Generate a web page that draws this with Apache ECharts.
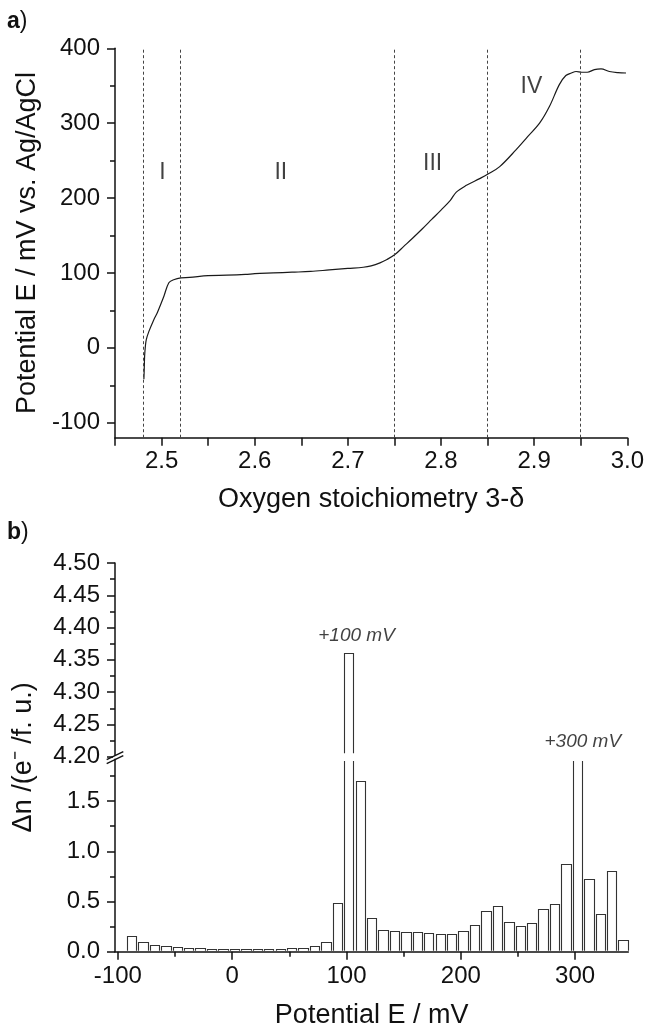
<!DOCTYPE html>
<html>
<head>
<meta charset="utf-8">
<script src="https://cdn.jsdelivr.net/npm/echarts@6/dist/echarts.min.js"></script>
<style>
html,body{margin:0;padding:0;background:#fff;}
#chart{width:647px;height:1030px;}
</style>
</head>
<body>
<div id="chart"></div>
<script>
// ---------- Panel a) data ----------
const stoich = [2.481, 2.4814, 2.4818, 2.4826, 2.4836, 2.4864, 2.4918, 2.4954, 2.5025, 2.5078, 2.513, 2.5207,
  2.53, 2.55, 2.57, 2.59, 2.60, 2.62, 2.64, 2.66, 2.68, 2.70, 2.7165, 2.725, 2.7345, 2.742, 2.7505,
  2.76, 2.77, 2.78, 2.79, 2.80, 2.81, 2.8164, 2.8273, 2.8415, 2.8504, 2.863, 2.8807,
  2.893, 2.9058, 2.9165, 2.927, 2.934, 2.940, 2.945, 2.951, 2.957, 2.9647, 2.9718, 2.9807, 2.990, 2.9986];
const potential = [-42, -28, -11, 2, 11, 22, 38, 47, 69, 87, 91, 93.5,
  94, 96.5, 97, 98, 99, 100, 101, 102, 104, 106, 107.6, 109.5, 113.5, 118, 124.6,
  135.5, 147, 159, 171.5, 184, 197, 208, 217, 226, 232, 242, 264.7,
  282, 300, 322.6, 351.5, 363.6, 367, 369, 368, 368, 371.6, 372.5, 369, 367.5, 367];
const boundaries = [2.48, 2.52, 2.75, 2.85, 2.95];
const regionNames = ['I', 'II', 'III', 'IV'];
const regionX = [2.501, 2.628, 2.791, 2.897];
const regionY = [234, 234, 246, 349];
const aYTicks = [-100, 0, 100, 200, 300, 400];
const aYMinor = [-50, 50, 150, 250, 350];

// ---------- Panel b) data ----------
const binE = [-88, -78, -68, -58, -48, -38, -28, -18, -8, 2, 12, 22, 32, 42, 52, 62, 72, 82, 92,
  102, 112, 122, 132, 142, 152, 162, 172, 182, 192, 202, 212, 222, 232, 242, 252, 262, 272, 282, 292,
  302, 312, 322, 332, 342];
const deltaN = [0.16, 0.093, 0.07, 0.057, 0.044, 0.04, 0.034, 0.03, 0.027, 0.024, 0.027, 0.027, 0.03, 0.03, 0.034, 0.037, 0.053, 0.097, 0.485,
  4.36, 1.705, 0.333, 0.216, 0.203, 0.196, 0.196, 0.186, 0.173, 0.18, 0.206, 0.27, 0.41, 0.46, 0.30, 0.26, 0.283, 0.43, 0.48, 0.874,
  3.0, 0.72, 0.373, 0.805, 0.114];
const bXTicks = [-100, 0, 100, 200, 300];
const bXMinor = [-50, 50, 150, 250];
const bLowTicks = [0, 0.5, 1.0, 1.5];
const bLowMinor = [0.25, 0.75, 1.25, 1.75];
const peakLabels = ['+100 mV', '+300 mV'];
const peakLabelX = [108.8, 306.7];
const peakLabelY = [4.387, 4.223];

// ---------- styling ----------
const FONT = '"Liberation Sans", Arial, Helvetica, sans-serif';
const INK = '#111';
const axisLineStyle = {show: true, onZero: false, lineStyle: {color: INK, width: 1.5}};
const LOW_MAX = 1.93;
const HIGH_MIN = 4.2, HIGH_MAX = 4.5;
const BAR_MV = 8.2;

function barRenderer(lo, hi) {
  return function (params, api) {
    const x = api.value(0), v = api.value(1);
    if (v <= lo) return null;
    const cutTop = v > hi;
    const cutBottom = lo > 0;
    const pTop = api.coord([x, Math.min(v, hi)]);
    const pBase = api.coord([x, lo]);
    const w = api.size([BAR_MV, 0])[0];
    const xl = Math.round(pTop[0] - w / 2) + 0.5;
    const xr = Math.round(pTop[0] + w / 2) + 0.5;
    let yt = Math.round(pTop[1]) + 0.5;
    let yb = pBase[1];
    if (cutTop) yt += 2.5;
    if (cutBottom) yb -= 3.5; else yb -= 1;
    const st = {stroke: '#333', lineWidth: 1.1, fill: null};
    const children = [{type: 'rect', shape: {x: xl, y: yt, width: xr - xl, height: yb - yt}, style: {fill: '#fff'}}];
    if (cutTop) {
      children.push({type: 'line', shape: {x1: xl, y1: yt, x2: xl, y2: yb}, style: st});
      children.push({type: 'line', shape: {x1: xr, y1: yt, x2: xr, y2: yb}, style: st});
    } else {
      children.push({type: 'polyline', shape: {points: [[xl, yb], [xl, yt], [xr, yt], [xr, yb]]}, style: st});
    }
    return {type: 'group', children: children};
  };
}

const curveData = stoich.map((s, i) => [s, potential[i]]);
const barData = binE.map((e, i) => [e, deltaN[i]]);
const regionData = regionNames.map((n, i) => [regionX[i], regionY[i], n]);
const peakData = peakLabels.map((n, i) => [peakLabelX[i], peakLabelY[i], n]);

const chart = echarts.init(document.getElementById('chart'), null, {renderer: 'canvas'});

const tickLabel = {color: INK, fontSize: 24, fontFamily: FONT};
const nameStyle = {color: INK, fontSize: 27, fontFamily: FONT};

const option = {
  animation: false,
  backgroundColor: '#fff',
  textStyle: {fontFamily: FONT},
  grid: [
    {left: 115, right: 18.7, top: 48.3, bottom: 592.3},
    {left: 115, right: 18.7, top: 563, bottom: 273.3},
    {left: 115, right: 18.7, top: 758, bottom: 78.3}
  ],
  xAxis: [
    {type: 'value', gridIndex: 0, min: 2.45, max: 3.0, interval: 0.05,
      axisLine: axisLineStyle, splitLine: {show: false},
      axisTick: {show: true, length: 8, lineStyle: {color: INK, width: 1.5}},
      axisLabel: Object.assign({}, tickLabel, {margin: 12, showMinLabel: true,
        formatter: v => (Math.round(v * 100) % 10 === 0 ? v.toFixed(1) : '')}),
      name: 'Oxygen stoichiometry 3-δ', nameLocation: 'middle', nameGap: 48, nameTextStyle: nameStyle},
    {type: 'value', gridIndex: 1, min: -102.5, max: 346.5, show: false},
    {type: 'value', gridIndex: 2, min: -102.5, max: 346.5, position: 'bottom',
      axisLine: axisLineStyle, splitLine: {show: false},
      axisTick: {show: true, length: 8, customValues: bXTicks, lineStyle: {color: INK, width: 1.5}},
      axisLabel: Object.assign({}, tickLabel, {margin: 13, customValues: bXTicks}),
      name: 'Potential E / mV', nameLocation: 'middle', nameGap: 50, nameTextStyle: nameStyle},
    {type: 'value', gridIndex: 2, min: -102.5, max: 346.5, position: 'bottom',
      axisLine: {show: false, onZero: false}, splitLine: {show: false},
      axisTick: {show: true, length: 5, customValues: bXMinor, lineStyle: {color: INK, width: 1.5}},
      axisLabel: {show: false}}
  ],
  yAxis: [
    {type: 'value', gridIndex: 0, min: -120, max: 400, position: 'left',
      axisLine: axisLineStyle, splitLine: {show: false},
      axisTick: {show: true, length: 8, customValues: aYTicks, lineStyle: {color: INK, width: 1.5}},
      axisLabel: Object.assign({}, tickLabel, {margin: 15, customValues: aYTicks}),
      name: 'Potential E / mV vs. Ag/AgCl', nameLocation: 'middle', nameGap: 68, nameTextStyle: nameStyle},
    {type: 'value', gridIndex: 0, min: -120, max: 400, position: 'left',
      axisLine: {show: false, onZero: false}, splitLine: {show: false},
      axisTick: {show: true, length: 5, customValues: aYMinor, lineStyle: {color: INK, width: 1.5}},
      axisLabel: {show: false}},
    {type: 'value', gridIndex: 1, min: HIGH_MIN, max: HIGH_MAX, interval: 0.05, position: 'left',
      axisLine: axisLineStyle, splitLine: {show: false},
      axisTick: {show: true, length: 8, lineStyle: {color: INK, width: 1.5}},
      minorTick: {show: true, splitNumber: 2, length: 5, lineStyle: {color: INK, width: 1.5}},
      axisLabel: Object.assign({}, tickLabel, {margin: 15, formatter: v => v.toFixed(2)})},
    {type: 'value', gridIndex: 2, min: 0, max: LOW_MAX, position: 'left',
      axisLine: axisLineStyle, splitLine: {show: false},
      axisTick: {show: true, length: 8, customValues: bLowTicks, lineStyle: {color: INK, width: 1.5}},
      axisLabel: Object.assign({}, tickLabel, {margin: 15, customValues: bLowTicks, formatter: v => v.toFixed(1)})},
    {type: 'value', gridIndex: 2, min: 0, max: LOW_MAX, position: 'left',
      axisLine: {show: false, onZero: false}, splitLine: {show: false},
      axisTick: {show: true, length: 5, customValues: bLowMinor, lineStyle: {color: INK, width: 1.5}},
      axisLabel: {show: false}}
  ],
  series: [
    {type: 'line', xAxisIndex: 0, yAxisIndex: 0, data: curveData, showSymbol: false, symbol: 'none',
      smooth: 0.35,
      lineStyle: {color: '#1a1a1a', width: 1.2},
      markLine: {symbol: 'none', silent: true, label: {show: false}, animation: false,
        lineStyle: {type: [3, 2.5], color: '#444', width: 1},
        data: boundaries.map(b => ({xAxis: b}))}},
    {type: 'scatter', xAxisIndex: 0, yAxisIndex: 0, data: regionData, symbolSize: 1,
      itemStyle: {color: 'rgba(0,0,0,0)'}, silent: true,
      label: {show: true, position: 'inside', formatter: p => p.data[2], color: INK, fontSize: 23, fontFamily: FONT}},
    {type: 'custom', xAxisIndex: 1, yAxisIndex: 2, data: barData, renderItem: barRenderer(HIGH_MIN, HIGH_MAX), clip: false},
    {type: 'custom', xAxisIndex: 2, yAxisIndex: 3, data: barData, renderItem: barRenderer(0, LOW_MAX), clip: false},
    {type: 'scatter', xAxisIndex: 1, yAxisIndex: 2, data: peakData, symbolSize: 1, clip: false,
      itemStyle: {color: 'rgba(0,0,0,0)'}, silent: true,
      label: {show: true, position: 'inside', formatter: p => p.data[2], color: INK, fontSize: 19,
        fontStyle: 'italic', fontFamily: FONT}}
  ]
};
chart.setOption(option);

// panel letters, rotated y title of panel b, and axis break marks
const breakY = chart.convertToPixel({yAxisIndex: 2}, HIGH_MIN);
const axisX = chart.convertToPixel({xAxisIndex: 2}, -102.5);
const topB = chart.convertToPixel({yAxisIndex: 2}, HIGH_MAX);
const lowB = chart.convertToPixel({yAxisIndex: 3}, 0);
chart.setOption({
  graphic: [
    {type: 'text', left: 7, top: 10, style: {text: '{b|a})', fill: INK, font: '23px ' + FONT,
      rich: {b: {fontWeight: 'bold', fontSize: 23, fontFamily: FONT, fill: INK}}}},
    {type: 'text', left: 7, top: 521, style: {text: '{b|b})', fill: INK, font: '23px ' + FONT,
      rich: {b: {fontWeight: 'bold', fontSize: 23, fontFamily: FONT, fill: INK}}}},
    {type: 'text', x: 24, y: (topB + lowB) / 2, rotation: Math.PI / 2,
      style: {text: 'Δn /(e⁻ /f. u.)', fill: INK, font: '27px ' + FONT, align: 'center', verticalAlign: 'middle'}},
    {type: 'rect', shape: {x: axisX - 2, y: breakY - 1, width: 4, height: 3}, style: {fill: '#fff'}, z: 100},
    {type: 'line', shape: {x1: axisX - 8.3, y1: breakY + 3, x2: axisX + 8.3, y2: breakY - 5},
      style: {stroke: INK, lineWidth: 1.4}, z: 101},
    {type: 'line', shape: {x1: axisX - 8.3, y1: breakY + 7, x2: axisX + 8.3, y2: breakY - 1},
      style: {stroke: INK, lineWidth: 1.4}, z: 101}
  ]
});
</script>
</body>
</html>
